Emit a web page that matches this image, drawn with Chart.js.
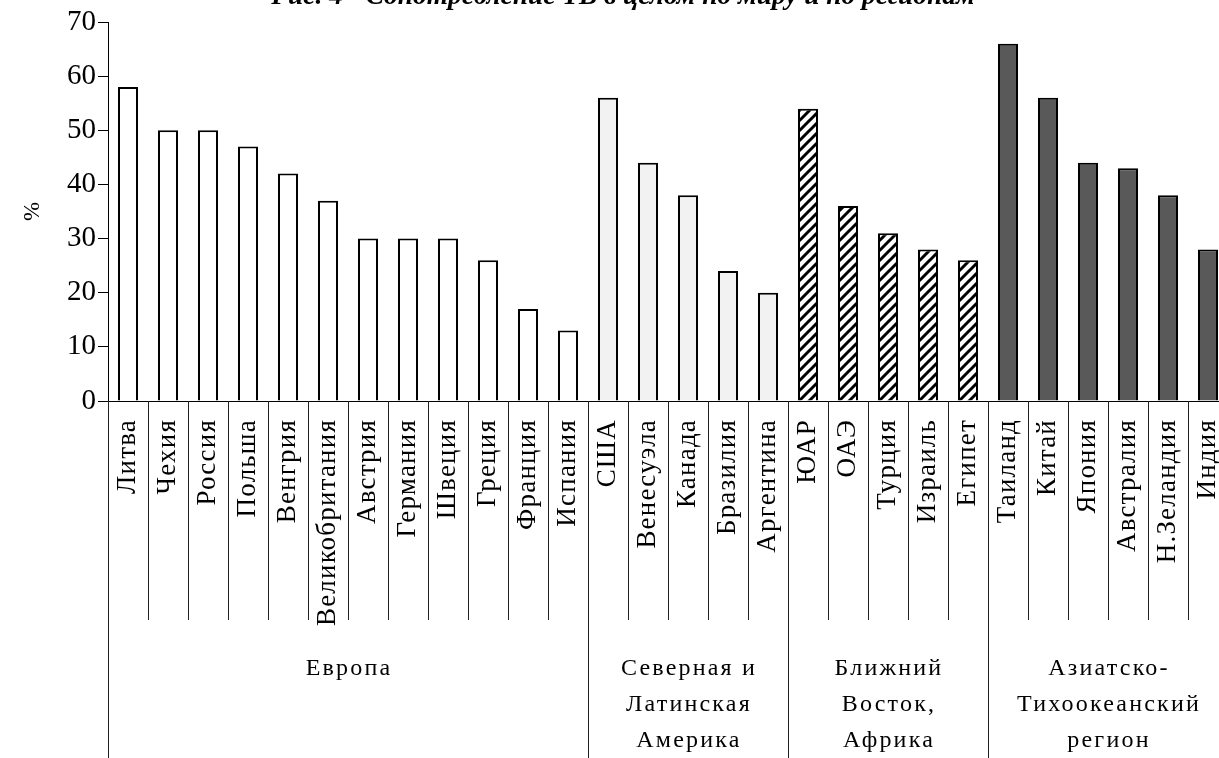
<!DOCTYPE html>
<html>
<head>
<meta charset="utf-8">
<script src="https://cdn.jsdelivr.net/npm/chart.js@4.4.1/dist/chart.umd.min.js"></script>
<style>
  html, body { margin: 0; padding: 0; background: #fff; overflow: hidden; }
  #wrap { width: 1228px; height: 758px; }
</style>
</head>
<body>
<div id="wrap"><canvas id="chart" width="1228" height="758"></canvas></div>
<script>
// data
var countries = ['Литва', 'Чехия', 'Россия', 'Польша', 'Венгрия', 'Великобритания', 'Австрия',
  'Германия', 'Швеция', 'Греция', 'Франция', 'Испания',
  'США', 'Венесуэла', 'Канада', 'Бразилия', 'Аргентина',
  'ЮАР', 'ОАЭ', 'Турция', 'Израиль', 'Египет',
  'Таиланд', 'Китай', 'Япония', 'Австралия', 'Н.Зеландия', 'Индия'];
var values = [58, 50, 50, 47, 42, 37, 30, 30, 30, 26, 17, 13,
  56, 44, 38, 24, 20,
  54, 36, 31, 28, 26,
  66, 56, 44, 43, 38, 28];
var regionNames = [
  ['Европа'],
  ['Северная и', 'Латинская', 'Америка'],
  ['Ближний', 'Восток,', 'Африка'],
  ['Азиатско-', 'Тихоокеанский', 'регион']
];
var regionSizes = [12, 5, 5, 6];
var yTicks = [0, 10, 20, 30, 40, 50, 60, 70];
var titleText = 'Рис. 4 - Сопотребление ТВ в целом по миру и по регионам';

var SERIF = '"Liberation Serif", "Times New Roman", serif';

// diagonal hatch for the middle-east group
function makeHatch() {
  var c = document.createElement('canvas');
  c.width = 10; c.height = 10;
  var g = c.getContext('2d');
  g.fillStyle = '#fff';
  g.fillRect(0, 0, 10, 10);
  g.strokeStyle = '#000';
  g.lineWidth = 3;
  g.beginPath();
  g.moveTo(-2, 12); g.lineTo(12, -2);
  g.moveTo(-7, 7); g.lineTo(7, -7);
  g.moveTo(3, 17); g.lineTo(17, 3);
  g.stroke();
  return g.createPattern(c, 'repeat');
}

var ctx0 = document.getElementById('chart').getContext('2d');
var regionFills = ['#ffffff', '#f2f2f2', makeHatch(), '#595959'];

var barFills = [];
regionSizes.forEach(function (n, r) {
  for (var i = 0; i < n; i++) barFills.push(regionFills[r]);
});

// divider lines under the axis + region captions + clipped title
var decorPlugin = {
  id: 'decor',
  afterLayout: function (chart) {
    // slightly spaced category labels, as in the original
    var xs = chart.scales.x;
    if (xs._spacedLabels) return;
    var orig = xs.drawLabels;
    xs.drawLabels = function (area) {
      var c = this.ctx;
      c.letterSpacing = '1.2px';
      orig.call(this, area);
      c.letterSpacing = '0px';
    };
    xs._spacedLabels = true;
  },
  afterDraw: function (chart) {
    var ctx = chart.ctx;
    var xs = chart.scales.x;
    var half = (xs.getPixelForValue(1) - xs.getPixelForValue(0)) / 2;
    var base = chart.chartArea.bottom;
    var starts = [0];
    regionSizes.forEach(function (n, r) { starts.push(starts[r] + n); });

    ctx.save();
    ctx.strokeStyle = '#222';
    ctx.lineWidth = 1;
    for (var i = 0; i <= countries.length; i++) {
      var bx = Math.round(xs.getPixelForValue(Math.min(i, countries.length - 1)) + (i < countries.length ? -half : half)) + 0.5;
      var longLine = starts.indexOf(i) >= 0;
      ctx.beginPath();
      ctx.moveTo(bx, base);
      ctx.lineTo(bx, longLine ? chart.height : 620);
      ctx.stroke();
    }

    ctx.fillStyle = '#000';
    ctx.font = '24px ' + SERIF;
    ctx.letterSpacing = '2.2px';
    ctx.textAlign = 'center';
    ctx.textBaseline = 'middle';
    regionNames.forEach(function (lines, r) {
      var x1 = xs.getPixelForValue(starts[r]) - half;
      var x2 = xs.getPixelForValue(starts[r + 1] - 1) + half;
      var cx = (x1 + x2) / 2 + 1;
      lines.forEach(function (t, k) {
        ctx.fillText(t, cx, 669 + k * 36);
      });
    });

    ctx.letterSpacing = '0px';
    ctx.font = 'italic bold 24px ' + SERIF;
    var w = ctx.measureText(titleText).width;
    var size = 24 * 703 / w;
    ctx.font = 'italic bold ' + size.toFixed(1) + 'px ' + SERIF;
    ctx.textBaseline = 'alphabetic';
    ctx.fillText(titleText, 623, 4);
    ctx.restore();
  }
};

new Chart(ctx0, {
  type: 'bar',
  data: {
    labels: countries,
    datasets: [{
      data: values,
      backgroundColor: barFills,
      borderColor: '#000',
      borderWidth: 2,
      barPercentage: 0.5,
      categoryPercentage: 1.0
    }]
  },
  options: {
    responsive: false,
    animation: false,
    layout: { padding: { top: 22, left: 0, right: 0, bottom: 0 } },
    plugins: { legend: { display: false }, tooltip: { enabled: false } },
    scales: {
      x: {
        grid: { display: false, drawTicks: false },
        border: { color: '#000', width: 1 },
        ticks: {
          autoSkip: false, minRotation: 90, maxRotation: 90, padding: 18,
          color: '#000', font: { family: SERIF, size: 27 }
        },
        afterFit: function (s) {
          s.height = 357;
          s.paddingLeft = 0;
          s.paddingRight = 0;
        }
      },
      y: {
        min: 0, max: 70,
        afterBuildTicks: function (s) { s.ticks = yTicks.map(function (v) { return { value: v }; }); },
        grid: { drawOnChartArea: false, drawTicks: true, tickLength: 10, color: '#000' },
        border: { color: '#000', width: 1 },
        ticks: { color: '#000', padding: 2, font: { family: SERIF, size: 29 } },
        title: { display: true, text: '%', color: '#000', font: { family: SERIF, size: 23 }, padding: { top: 19, bottom: 0 } },
        afterFit: function (s) { s.width = 108; }
      }
    }
  },
  plugins: [decorPlugin]
});
</script>
</body>
</html>
